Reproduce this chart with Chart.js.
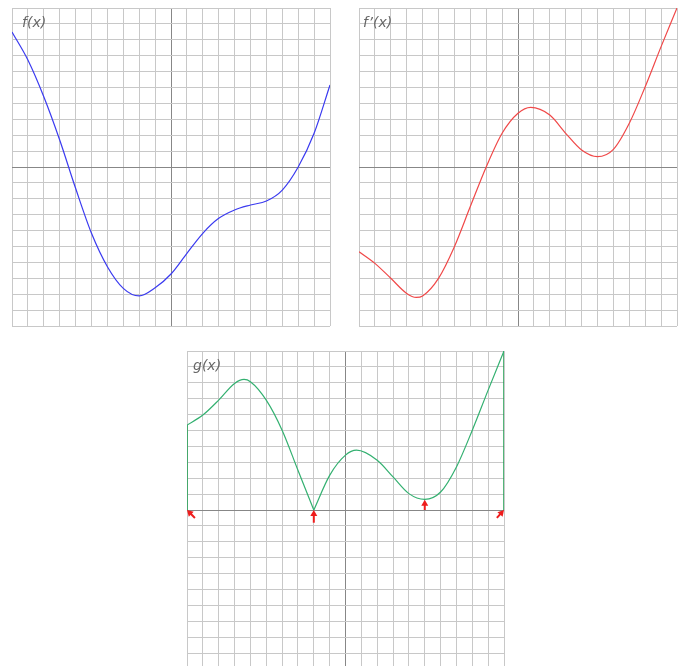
<!DOCTYPE html>
<html>
<head>
<meta charset="utf-8">
<script src="https://cdn.jsdelivr.net/npm/chart.js@4/dist/chart.umd.min.js"></script>
<style>
  html, body { margin: 0; padding: 0; background: #fff; overflow: hidden; width: 684px; height: 666px; }
  .panel { position: absolute; }
  .lbl { position: absolute; font: italic 14px "DejaVu Sans", sans-serif; color: #666; white-space: nowrap; }
</style>
</head>
<body>
<div class="panel" style="left:11px;top:7px"><canvas id="cf" width="320" height="320"></canvas></div>
<div class="panel" style="left:358px;top:7px"><canvas id="cd" width="320" height="320"></canvas></div>
<div class="panel" style="left:186px;top:350px"><canvas id="cg" width="319" height="320"></canvas></div>
<div class="lbl" style="left:22px;top:14px">f(x)</div>
<div class="lbl" style="left:363px;top:14px">f’(x)</div>
<div class="lbl" style="left:193px;top:357px">g(x)</div>
<script>
// f(x)
const fX = [-10, -9, -8, -7, -6, -5, -4, -3, -2, -1, 0, 1, 2, 3, 4, 5, 6, 7, 8, 9, 10];
const fY = [8.49, 6.73, 4.42, 1.70, -1.34, -4.17, -6.27, -7.63, -8.11, -7.6, -6.73, -5.43, -4.17, -3.23, -2.70, -2.39, -2.14, -1.45, 0, 2.12, 5.16];

// f'(x)
const dX = [-10, -9, -8, -7, -6.4, -6, -5, -4, -3, -2, -1, 0, 0.8, 2, 3, 4, 5, 6, 7, 8, 9, 10];
const dY = [-5.33, -6.06, -7.0, -7.95, -8.2, -8.11, -7.0, -5.01, -2.49, 0, 2.12, 3.38, 3.75, 3.27, 2.12, 1.07, 0.65, 1.11, 2.75, 5.05, 7.57, 10.0];

// g(x), left branch up to the cusp at x = -2, right branch after it
const gLeftX = [-10, -9, -8, -7, -6.4, -6, -5, -4, -3, -2];
const gLeftY = [5.34, 5.97, 6.91, 7.96, 8.21, 8.07, 6.91, 5.02, 2.5, 0];
const gRightX = [-2, -1, 0, 0.7, 2, 3, 4, 5, 6, 7, 8, 9, 10];
const gRightY = [0, 2.18, 3.45, 3.76, 3.13, 2.08, 1.03, 0.67, 1.13, 2.71, 5.02, 7.54, 10.0];

// arrows on g: tail (x, y) -> head (x, y)
const arrowTailX = [-9.5, -2, 5, 9.55];
const arrowTailY = [-0.5, -0.8, 0, -0.5];
const arrowHeadX = [-10, -2, 5, 10];
const arrowHeadY = [0, 0, 0.65, 0];

const pts = (xs, ys) => xs.map((x, i) => ({ x, y: ys[i] }));

function axis() {
  return {
    type: 'linear', min: -10, max: 10,
    ticks: { display: false, stepSize: 1 },
    grid: {
      drawTicks: false,
      lineWidth: 1,
      color: c => (c.tick && c.tick.value === 0) ? '#878787' : '#c8c8c8'
    },
    border: { display: false }
  };
}

function baseOptions() {
  return {
    responsive: false,
    animation: false,
    layout: { padding: 1 },
    plugins: { legend: { display: false }, tooltip: { enabled: false } },
    elements: {
      point: { radius: 0 },
      line: { borderWidth: 1.2, cubicInterpolationMode: 'monotone' }
    },
    scales: { x: axis(), y: axis() }
  };
}

new Chart(document.getElementById('cf'), {
  type: 'line',
  data: { datasets: [{ data: pts(fX, fY), borderColor: '#3a3af0', fill: false }] },
  options: baseOptions()
});

new Chart(document.getElementById('cd'), {
  type: 'line',
  data: { datasets: [{ data: pts(dX, dY), borderColor: '#f04848', fill: false }] },
  options: baseOptions()
});

const arrowPlugin = {
  id: 'arrows',
  afterDatasetsDraw(chart) {
    const { ctx, scales: { x, y } } = chart;
    ctx.save();
    ctx.strokeStyle = '#ee1c1c';
    ctx.fillStyle = '#ee1c1c';
    ctx.lineWidth = 2;
    for (let i = 0; i < arrowHeadX.length; i++) {
      const x0 = x.getPixelForValue(arrowTailX[i]), y0 = y.getPixelForValue(arrowTailY[i]);
      const x1 = x.getPixelForValue(arrowHeadX[i]), y1 = y.getPixelForValue(arrowHeadY[i]);
      const a = Math.atan2(y1 - y0, x1 - x0);
      const hl = 6, hw = 3.5;
      ctx.beginPath();
      ctx.moveTo(x0, y0);
      ctx.lineTo(x1 - Math.cos(a) * hl * 0.6, y1 - Math.sin(a) * hl * 0.6);
      ctx.stroke();
      ctx.beginPath();
      ctx.moveTo(x1, y1);
      ctx.lineTo(x1 - Math.cos(a) * hl - Math.sin(a) * hw, y1 - Math.sin(a) * hl + Math.cos(a) * hw);
      ctx.lineTo(x1 - Math.cos(a) * hl + Math.sin(a) * hw, y1 - Math.sin(a) * hl - Math.cos(a) * hw);
      ctx.closePath();
      ctx.fill();
    }
    ctx.restore();
  }
};

const gEdgeLeft = [{ x: gLeftX[0], y: 0 }, { x: gLeftX[0], y: gLeftY[0] }];
const gEdgeRight = [{ x: gRightX[gRightX.length - 1], y: 0 }, { x: gRightX[gRightX.length - 1], y: gRightY[gRightY.length - 1] }];

new Chart(document.getElementById('cg'), {
  type: 'line',
  data: {
    datasets: [
      { data: pts(gLeftX, gLeftY), borderColor: '#33b070', fill: false },
      { data: pts(gRightX, gRightY), borderColor: '#33b070', fill: false },
      { data: gEdgeLeft, borderColor: '#1a9c4c', borderWidth: 1.5, cubicInterpolationMode: 'default', tension: 0, fill: false },
      { data: gEdgeRight, borderColor: '#1a9c4c', borderWidth: 1.5, cubicInterpolationMode: 'default', tension: 0, fill: false }
    ]
  },
  options: baseOptions(),
  plugins: [arrowPlugin]
});
</script>
</body>
</html>
